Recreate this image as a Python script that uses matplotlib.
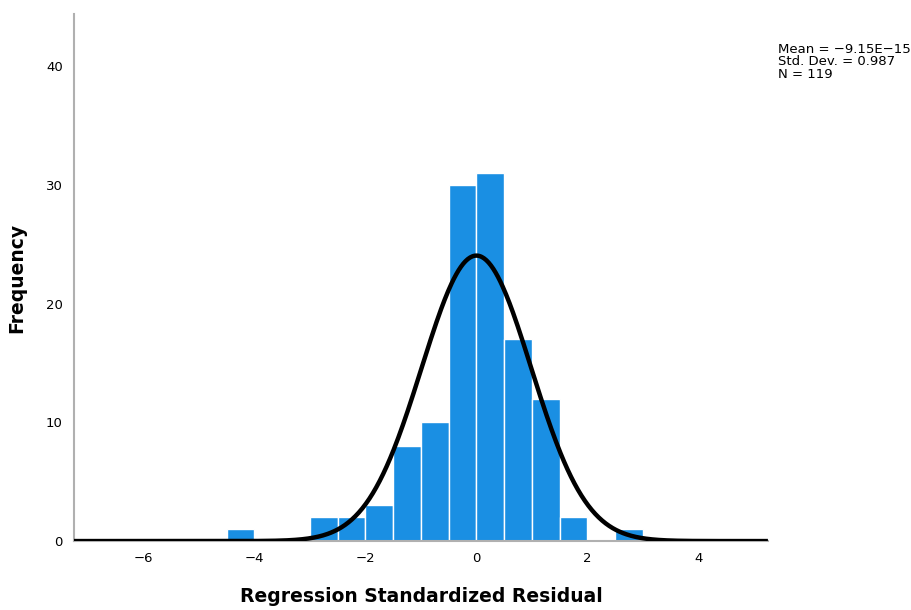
import numpy as np
import matplotlib.pyplot as plt

# histogram bins (left edges) and counts
bin_left = [-4.5, -3.0, -2.5, -2.0, -1.5, -1.0, -0.5, 0.0, 0.5, 1.0, 1.5, 2.5]
counts = [1, 2, 2, 3, 8, 10, 30, 31, 17, 12, 2, 1]
bin_width = 0.5

mean = -9.15e-15
std_dev = 0.987
n = 119

fig = plt.figure(figsize=(9.12, 6.10), dpi=100)
ax = fig.add_axes([0.081, 0.113, 0.761, 0.864])

ax.bar(bin_left, counts, width=bin_width, align="edge",
       color="#1a8fe3", edgecolor="white", linewidth=1.0, zorder=2)

# normal curve scaled to the histogram
x = np.linspace(-7.25, 5.25, 600)
y = n * bin_width / (std_dev * np.sqrt(2 * np.pi)) * np.exp(-0.5 * ((x - mean) / std_dev) ** 2)
ax.plot(x, y, color="black", linewidth=3.2, zorder=3, solid_capstyle="butt")

ax.set_xlim(-7.25, 5.25)
ax.set_ylim(0, 44.4)
ax.set_xticks([-6, -4, -2, 0, 2, 4])
ax.set_xticklabels(["\u22126", "\u22124", "\u22122", "0", "2", "4"])
ax.set_yticks([0, 10, 20, 30, 40])
ax.tick_params(length=0, labelsize=9.5, pad=8)

for side in ["top", "right"]:
    ax.spines[side].set_visible(False)
for side in ["left", "bottom"]:
    ax.spines[side].set_color("#b0b0b0")
    ax.spines[side].set_linewidth(1.5)

ax.set_xlabel("Regression Standardized Residual", fontsize=13.5, fontweight="bold", labelpad=16)
ax.set_ylabel("Frequency", fontsize=13.5, fontweight="bold", labelpad=14)

fig.text(0.853, 0.93, "Mean = \u22129.15E\u221215\nStd. Dev. = 0.987\nN = 119",
         fontsize=9.5, va="top", ha="left", linespacing=0.95)

fig.savefig("out.png", dpi=100)
